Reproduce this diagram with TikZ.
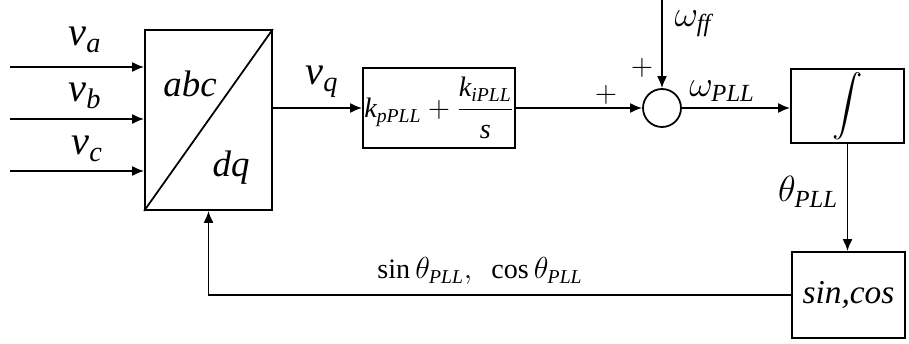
\documentclass[tikz,border=0pt]{standalone}
\usepackage{amsmath}
\usepackage{fontspec}
\setmainfont{Liberation Serif}
\usepackage{tikz}
\usetikzlibrary{positioning,arrows.meta,calc}
\tikzset{
  blk/.style={draw, line width=1pt, inner sep=0pt},
  sumnode/.style={draw, line width=1pt, circle, minimum size=0.76cm, inner sep=0pt},
  lbl/.style={inner sep=0pt, font=\fontsize{20}{24}\selectfont},
  arrow/.style={-{Latex[length=2.4mm,width=2mm]}, line width=1pt},
  wire/.style={line width=1pt},
}
\begin{document}
\begin{tikzpicture}[x=0.02cm, y=-0.02cm]
  \useasboundingbox (0,0) rectangle (909,344);
  \node[blk, minimum width=2.54cm, minimum height=3.6cm] (conv) at (208.5,120) {};
  \draw[wire] (conv.south west) -- (conv.north east);
  \node[lbl, font=\fontsize{21}{25}\selectfont] (abc) at (190,84) {$\mathit{abc}$};
  \node[lbl, font=\fontsize{21}{25}\selectfont] (dq) at (231,168) {$\mathit{dq}$};
  \coordinate (ina) at (10,67);
  \coordinate (inb) at (10,119);
  \coordinate (inc) at (10,171);
  \node[lbl, font=\fontsize{23}{27}\selectfont] (va) at (85,40) {$\mathit{v_a}$};
  \node[lbl, font=\fontsize{23}{27}\selectfont] (vb) at (85,96) {$\mathit{v_b}$};
  \node[lbl, font=\fontsize{23}{27}\selectfont] (vc) at (87,149) {$\mathit{v_c}$};
  \node[blk, minimum width=3.04cm, minimum height=1.6cm, font=\fontsize{16}{19}\selectfont] (pi) at (439,108)
    {$\mathit{k_{pPLL}}+\dfrac{\mathit{k_{iPLL}}}{\mathit{s}}$};
  \node[lbl, font=\fontsize{23}{27}\selectfont] (vq) at (322,82) {$\mathit{v_q}$};
  \node[sumnode] (sum) at (662,108) {};
  \coordinate (ff) at (662,0);
  \node[lbl, font=\fontsize{17}{20}\selectfont] (plusl) at (606,95) {$+$};
  \node[lbl, font=\fontsize{17}{20}\selectfont] (plust) at (642,68) {$+$};
  \node[lbl] (wff) at (693,24) {$\omega_{\mathit{ff}}$};
  \node[lbl] (wpll) at (722,91) {$\omega_{\mathit{PLL}}$};
  \node[blk, minimum width=2.26cm, minimum height=1.48cm] (integ) at (847.5,106)
    {\fontsize{17}{20}\selectfont$\displaystyle\int$};
  \node[lbl] (thpll) at (808,192) {$\theta_{\mathit{PLL}}$};
  \node[blk, minimum width=2.26cm, minimum height=1.72cm, font=\fontsize{19}{23}\selectfont] (trig) at (848.5,295) {\textit{sin,cos}};
  \node[lbl, font=\fontsize{16}{19}\selectfont] (fb) at (480,271) {$\sin\theta_{\mathit{PLL}},\ \ \cos\theta_{\mathit{PLL}}$};

  \draw[arrow] (ina) -- (ina -| conv.west);
  \draw[arrow] (inb) -- (inb -| conv.west);
  \draw[arrow] (inc) -- (inc -| conv.west);
  \draw[arrow] (conv.east |- pi.west) -- (pi.west);
  \draw[arrow] (pi.east) -- (sum.west);
  \draw[arrow] (ff) -- (sum.north);
  \draw[arrow] (sum.east) -- (sum.east -| integ.west);
  \draw[arrow] (integ.south) -- (integ.south |- trig.north);
  \draw[arrow] (trig.west) -| (conv.south);
\end{tikzpicture}
\end{document}
